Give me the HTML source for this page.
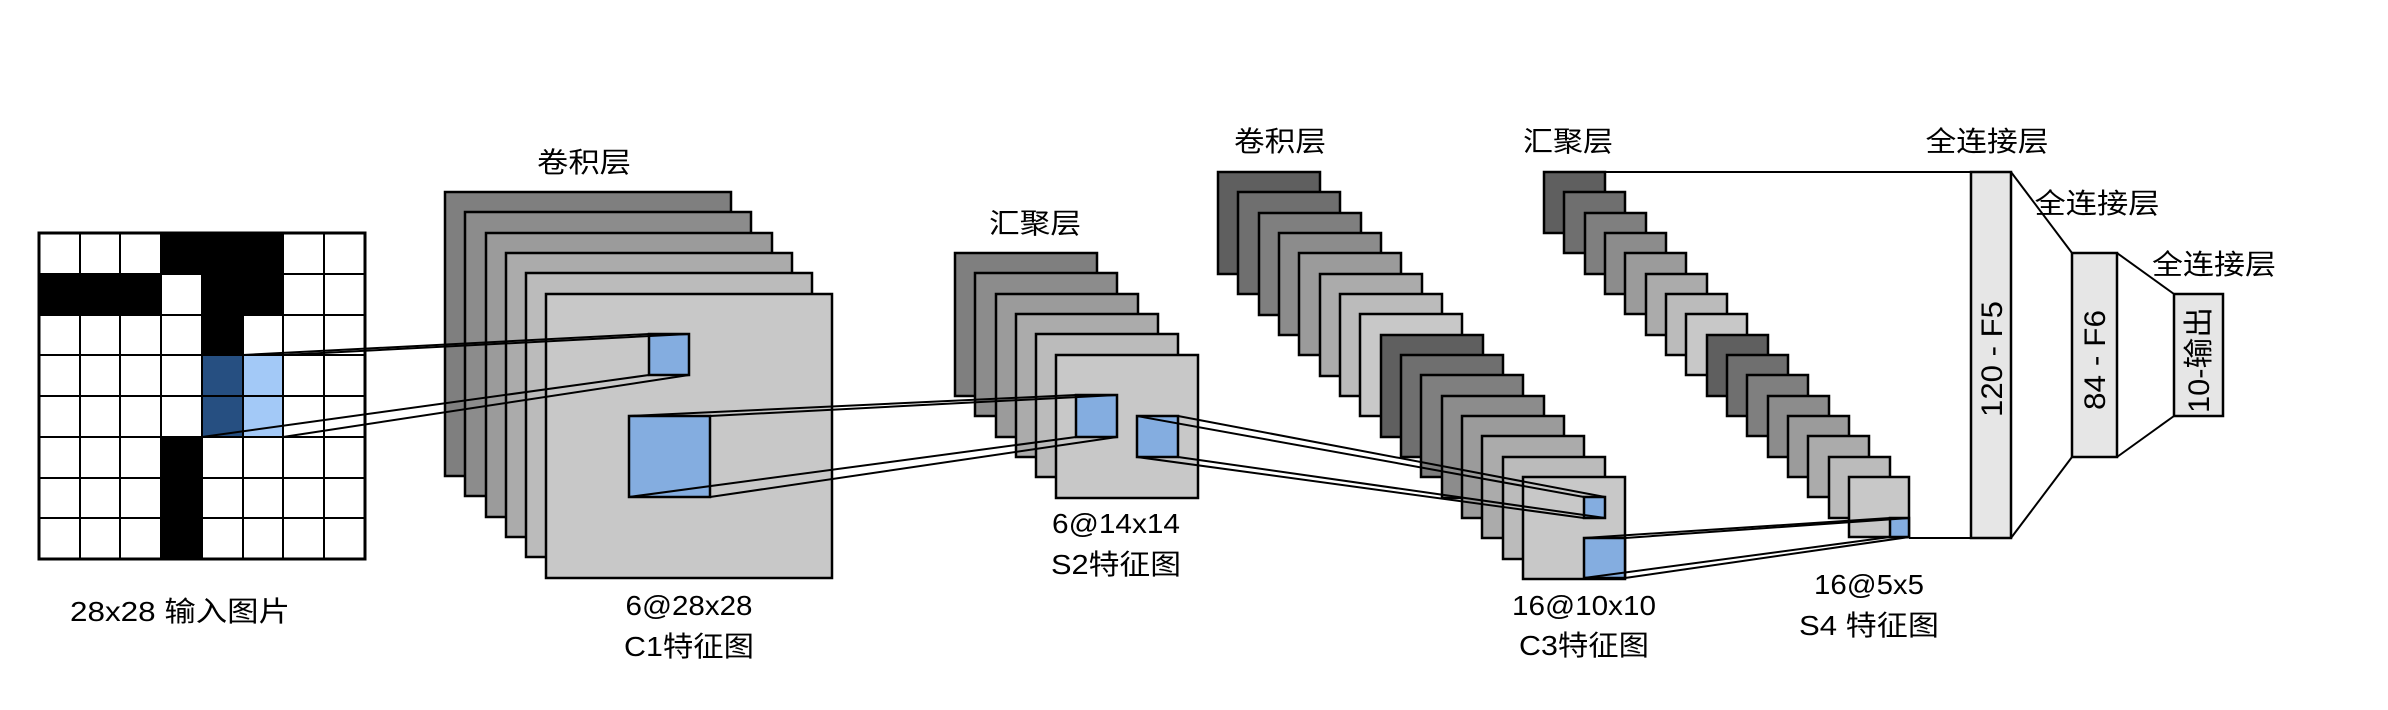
<!DOCTYPE html>
<html><head><meta charset="utf-8"><style>
html,body{margin:0;padding:0;background:#fff;}
svg{display:block;}
text{font-family:"Liberation Sans","Noto Sans CJK SC",sans-serif;fill:#000;}
</style></head><body>
<svg width="2388" height="710" viewBox="0 0 2388 710" xmlns="http://www.w3.org/2000/svg">
<!-- input grid -->
<g stroke="#000" stroke-width="2.5">
<rect x="39" y="233" width="326" height="326" fill="#fff"/>
</g>
<g fill="#000">
<rect x="161" y="233" width="123" height="41"/>
<rect x="39" y="274" width="122" height="41"/>
<rect x="202" y="274" width="82" height="41"/>
<rect x="202" y="315" width="41" height="40"/>
<rect x="161" y="437" width="41" height="122"/>
</g>
<rect x="202" y="355" width="41" height="82" fill="#1f497d" opacity="0.97"/>
<rect x="243" y="355" width="40" height="82" fill="#a3c9f7"/>
<g stroke="#000" stroke-width="2">
<line x1="80" y1="233" x2="80" y2="559"/><line x1="120" y1="233" x2="120" y2="559"/>
<line x1="161" y1="233" x2="161" y2="559"/><line x1="202" y1="233" x2="202" y2="559"/>
<line x1="243" y1="233" x2="243" y2="559"/><line x1="283" y1="233" x2="283" y2="559"/>
<line x1="324" y1="233" x2="324" y2="559"/>
<line x1="39" y1="274" x2="365" y2="274"/><line x1="39" y1="315" x2="365" y2="315"/>
<line x1="39" y1="355" x2="365" y2="355"/><line x1="39" y1="396" x2="365" y2="396"/>
<line x1="39" y1="437" x2="365" y2="437"/><line x1="39" y1="478" x2="365" y2="478"/>
<line x1="39" y1="518" x2="365" y2="518"/>
</g>
<rect x="39" y="233" width="326" height="326" fill="none" stroke="#000" stroke-width="3"/>

<!-- C1 stack -->
<g stroke="#000" stroke-width="2.5">
<rect x="445" y="192" width="286" height="284" fill="#7f7f7f"/>
<rect x="465" y="212" width="286" height="284" fill="#8c8c8c"/>
<rect x="486" y="233" width="286" height="284" fill="#9b9b9b"/>
<rect x="506" y="253" width="286" height="284" fill="#ababab"/>
<rect x="526" y="273" width="286" height="284" fill="#bbbbbb"/>
<rect x="546" y="294" width="286" height="284" fill="#c8c8c8"/>
</g>
<!-- S2 stack -->
<g stroke="#000" stroke-width="2.5">
<rect x="955" y="253" width="142" height="143" fill="#7f7f7f"/>
<rect x="975" y="273" width="142" height="143" fill="#8c8c8c"/>
<rect x="996" y="294" width="142" height="143" fill="#9b9b9b"/>
<rect x="1016" y="314" width="142" height="143" fill="#ababab"/>
<rect x="1036" y="334" width="142" height="143" fill="#bbbbbb"/>
<rect x="1056" y="355" width="142" height="143" fill="#c8c8c8"/>
</g>
<!-- C3 stack -->
<g stroke="#000" stroke-width="2.5">
<rect x="1218" y="172" width="102" height="102" fill="#5f5f5f"/>
<rect x="1238" y="192" width="102" height="102" fill="#6f6f6f"/>
<rect x="1259" y="213" width="102" height="102" fill="#7f7f7f"/>
<rect x="1279" y="233" width="102" height="102" fill="#8c8c8c"/>
<rect x="1299" y="253" width="102" height="102" fill="#9b9b9b"/>
<rect x="1320" y="274" width="102" height="102" fill="#ababab"/>
<rect x="1340" y="294" width="102" height="102" fill="#bbbbbb"/>
<rect x="1360" y="314" width="102" height="102" fill="#c8c8c8"/>
<rect x="1381" y="335" width="102" height="102" fill="#5f5f5f"/>
<rect x="1401" y="355" width="102" height="102" fill="#6f6f6f"/>
<rect x="1421" y="375" width="102" height="102" fill="#7f7f7f"/>
<rect x="1442" y="396" width="102" height="102" fill="#8c8c8c"/>
<rect x="1462" y="416" width="102" height="102" fill="#9b9b9b"/>
<rect x="1482" y="436" width="102" height="102" fill="#ababab"/>
<rect x="1503" y="457" width="102" height="102" fill="#bbbbbb"/>
<rect x="1523" y="477" width="102" height="102" fill="#c8c8c8"/>
</g>
<!-- S4 stack -->
<g stroke="#000" stroke-width="2.5">
<rect x="1544" y="172" width="61" height="61" fill="#5f5f5f"/>
<rect x="1564" y="192" width="61" height="61" fill="#6f6f6f"/>
<rect x="1585" y="213" width="61" height="61" fill="#7f7f7f"/>
<rect x="1605" y="233" width="61" height="61" fill="#8c8c8c"/>
<rect x="1625" y="253" width="61" height="61" fill="#9b9b9b"/>
<rect x="1646" y="274" width="61" height="61" fill="#ababab"/>
<rect x="1666" y="294" width="61" height="61" fill="#bbbbbb"/>
<rect x="1686" y="314" width="61" height="61" fill="#c8c8c8"/>
<rect x="1707" y="335" width="61" height="61" fill="#5f5f5f"/>
<rect x="1727" y="355" width="61" height="61" fill="#6f6f6f"/>
<rect x="1747" y="375" width="61" height="61" fill="#7f7f7f"/>
<rect x="1768" y="396" width="61" height="61" fill="#8c8c8c"/>
<rect x="1788" y="416" width="61" height="61" fill="#9b9b9b"/>
<rect x="1808" y="436" width="61" height="61" fill="#ababab"/>
<rect x="1829" y="457" width="61" height="61" fill="#bbbbbb"/>
<rect x="1849" y="477" width="60" height="60" fill="#c8c8c8"/>
</g>

<!-- blue patches -->
<g stroke="#000" stroke-width="2.5" fill="#84ade0">
<rect x="649" y="334" width="40" height="41"/>
<rect x="629" y="416" width="81" height="81"/>
<rect x="1076" y="395" width="41" height="42"/>
<rect x="1137" y="416" width="41" height="41"/>
<rect x="1584" y="497" width="21" height="21"/>
<rect x="1584" y="538" width="41" height="40"/>
<rect x="1890" y="518" width="19" height="19"/>
</g>

<!-- connectors -->
<g stroke="#000" stroke-width="2" fill="none">
<line x1="243" y1="355" x2="649" y2="334"/><line x1="283" y1="355" x2="689" y2="334"/>
<line x1="202" y1="437" x2="649" y2="375"/><line x1="283" y1="437" x2="689" y2="375"/>
<line x1="629" y1="416" x2="1076" y2="395"/><line x1="710" y1="416" x2="1117" y2="395"/>
<line x1="629" y1="497" x2="1076" y2="437"/><line x1="710" y1="497" x2="1117" y2="437"/>
<line x1="1137" y1="416" x2="1584" y2="497"/><line x1="1178" y1="416" x2="1605" y2="497"/>
<line x1="1137" y1="457" x2="1584" y2="518"/><line x1="1178" y1="457" x2="1605" y2="518"/>
<line x1="1584" y1="538" x2="1890" y2="518"/><line x1="1625" y1="538" x2="1909" y2="518"/>
<line x1="1584" y1="578" x2="1890" y2="537"/><line x1="1625" y1="578" x2="1909" y2="537"/>
<line x1="1605" y1="172" x2="2011" y2="172"/>
<line x1="1909" y1="538" x2="2011" y2="538"/>
<line x1="2011" y1="172" x2="2072" y2="253"/><line x1="2011" y1="538" x2="2072" y2="457"/>
<line x1="2117" y1="253" x2="2174" y2="294"/><line x1="2117" y1="457" x2="2174" y2="416"/>
</g>

<!-- FC layers -->
<g stroke="#000" stroke-width="2.5" fill="#e6e6e6">
<rect x="1971" y="172" width="40" height="366"/>
<rect x="2072" y="253" width="45" height="204"/>
<rect x="2174" y="294" width="49" height="122"/>
</g>
<text transform="translate(2002,359) rotate(-90)" font-size="30" text-anchor="middle" textLength="116" lengthAdjust="spacingAndGlyphs">120 - F5</text>
<text transform="translate(2105,360) rotate(-90)" font-size="30" text-anchor="middle" textLength="100" lengthAdjust="spacingAndGlyphs">84 - F6</text>
<text transform="translate(2209,360) rotate(-90)" font-size="30" text-anchor="middle" textLength="106" lengthAdjust="spacingAndGlyphs">10-输出</text>

<!-- labels -->
<g font-size="28" text-anchor="middle">
<text x="584" y="172" textLength="94" lengthAdjust="spacingAndGlyphs">卷积层</text>
<text x="180" y="621" textLength="220" lengthAdjust="spacingAndGlyphs">28x28 输入图片</text>
<text x="689" y="615" textLength="127" lengthAdjust="spacingAndGlyphs">6@28x28</text>
<text x="689" y="656" textLength="130" lengthAdjust="spacingAndGlyphs">C1特征图</text>
<text x="1035" y="233" textLength="92" lengthAdjust="spacingAndGlyphs">汇聚层</text>
<text x="1116" y="533" textLength="128" lengthAdjust="spacingAndGlyphs">6@14x14</text>
<text x="1116" y="574" textLength="130" lengthAdjust="spacingAndGlyphs">S2特征图</text>
<text x="1280" y="151" textLength="92" lengthAdjust="spacingAndGlyphs">卷积层</text>
<text x="1568" y="151" textLength="90" lengthAdjust="spacingAndGlyphs">汇聚层</text>
<text x="1584" y="615" textLength="144" lengthAdjust="spacingAndGlyphs">16@10x10</text>
<text x="1584" y="655" textLength="130" lengthAdjust="spacingAndGlyphs">C3特征图</text>
<text x="1869" y="594" textLength="110" lengthAdjust="spacingAndGlyphs">16@5x5</text>
<text x="1869" y="635" textLength="140" lengthAdjust="spacingAndGlyphs">S4 特征图</text>
<text x="1987" y="151" textLength="123" lengthAdjust="spacingAndGlyphs">全连接层</text>
<text x="2097" y="213" textLength="125" lengthAdjust="spacingAndGlyphs">全连接层</text>
<text x="2214" y="274" textLength="124" lengthAdjust="spacingAndGlyphs">全连接层</text>
</g>
</svg>
</body></html>
